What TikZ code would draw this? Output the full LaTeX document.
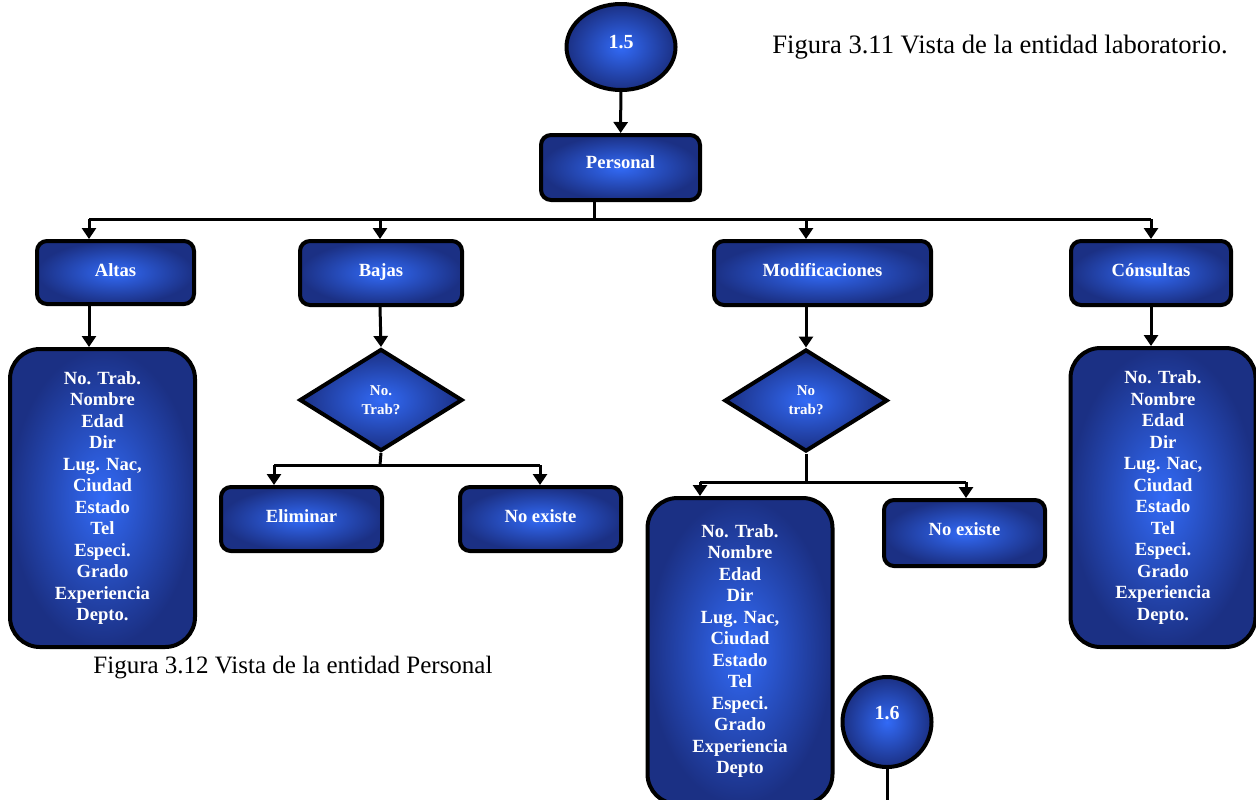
\documentclass[tikz,border=0pt]{standalone}
\usepackage{fontspec}
\setmainfont{Liberation Serif}
\usetikzlibrary{shapes.geometric,arrows.meta,calc}
\newlength\pxu \setlength\pxu{0.5pt}
\definecolor{bluein}{RGB}{50,106,246}
\definecolor{blueout}{RGB}{27,48,132}
\tikzset{
  shade/.style={draw=black, line width=2pt, inner color=bluein, outer color=blueout, text=white, align=center},
  box/.style={shade, rounded corners=5pt, inner sep=0pt, text height=7pt, text depth=3.5pt,
    font=\bfseries\fontsize{9.3}{10.75}\selectfont},
  listbox/.style={shade, rounded corners=15pt, inner sep=0pt, minimum width=185\pxu, font=\bfseries\fontsize{9.3}{10.75}\selectfont},
  decision/.style={shade, diamond, inner sep=0pt, minimum width=163\pxu, minimum height=102\pxu, font=\bfseries\fontsize{7.5}{9.5}\selectfont},
  term/.style={shade, ellipse, inner sep=0pt, font=\bfseries\fontsize{10}{12}\selectfont},
  wire/.style={line width=1.5pt},
  conn/.style={wire, -{Triangle[length=5.5pt,width=7pt]}},
  caption/.style={inner sep=0pt},
}
\begin{document}
\begin{tikzpicture}[x=0.5pt,y=-0.5pt]
  \clip (0,0) rectangle (1256,799);

  % top connector and root
  \node[term, minimum width=109\pxu, minimum height=86\pxu, text height=7pt, text depth=6pt] (c15) at (621,47) {1.5};
  \node[box, minimum width=159\pxu, minimum height=65\pxu, text depth=6pt] (pers) at (620.5,167.5) {Personal};

  % first level
  \node[box, minimum width=157\pxu, minimum height=63\pxu] (altas) at (115.5,272.5) {Altas};
  \node[box, minimum width=162\pxu, minimum height=64\pxu] (bajas) at (381,273) {Bajas};
  \node[box, minimum width=217\pxu, minimum height=64\pxu] (modif) at (822.5,273) {Modificaciones};
  \node[box, minimum width=160\pxu, minimum height=64\pxu] (cons) at (1151,273) {Cónsultas};

  % field lists
  \node[listbox, minimum height=298\pxu] (listA) at (102.5,498)
    {No. Trab.\\Nombre\\Edad\\Dir\\Lug. Nac,\\Ciudad\\Estado\\Tel\\Especi.\\Grado\\Experiencia\\Depto.};
  \node[listbox, minimum height=299\pxu] (listC) at (1163,497.5)
    {No. Trab.\\Nombre\\Edad\\Dir\\Lug. Nac,\\Ciudad\\Estado\\Tel\\Especi.\\Grado\\Experiencia\\Depto.};
  \node[listbox, minimum height=306\pxu] (listM) at (740,651)
    {No. Trab.\\Nombre\\Edad\\Dir\\Lug. Nac,\\Ciudad\\Estado\\Tel\\Especi.\\Grado\\Experiencia\\Depto};

  % decisions
  \node[decision] (dB) at (381,400) {No.\\Trab?};
  \node[decision] (dM) at (806,400.5) {No\\trab?};

  % outcomes
  \node[box, minimum width=161\pxu, minimum height=64\pxu] (elim) at (301.5,519) {Eliminar};
  \node[box, minimum width=161\pxu, minimum height=64\pxu] (noex1) at (540.5,519) {No existe};
  \node[box, minimum width=161\pxu, minimum height=66\pxu, text depth=5pt] (noex2) at (964.5,533) {No existe};

  % continuation connector
  \node[term, minimum width=89\pxu, minimum height=90\pxu] (c16) at (887,722)
    {\raisebox{18\pxu}{1.6}};
  \coordinate (c16end) at (887,812);

  % captions
  \node[caption, anchor=base west, font=\fontsize{13.3}{16}\selectfont] (cap11) at (772,53) {Figura 3.11 Vista de la entidad laboratorio.};
  \node[caption, anchor=base west, font=\fontsize{12.5}{15}\selectfont] (cap12) at (93,673) {Figura 3.12 Vista de la entidad Personal};

  % bus under Personal
  \coordinate (pj) at (594,219);
  \coordinate (bA) at (89,219);
  \coordinate (bB) at (380,219);
  \coordinate (bM) at (806,219);
  \coordinate (bC) at (1151,219);

  \draw[conn] (c15) -- (pers);
  \draw[wire] (pers.south -| pj) -- (pj);
  \draw[wire] (bA) -- (bC);
  \draw[conn] (bA) -- (bA |- altas.north);
  \draw[conn] (bB) -- (bB |- bajas.north);
  \draw[conn] (bM) -- (bM |- modif.north);
  \draw[conn] (bC) -- (bC |- cons.north);

  \draw[conn] (bA |- altas.south) -- (bA |- listA.north);
  \draw[conn] (bB |- bajas.south) -- (dB.north);
  \draw[conn] (bM |- modif.south) -- (dM.north);
  \draw[conn] (bC |- cons.south) -- (bC |- listC.north);

  % Bajas branches
  \coordinate (jB) at (380,465);
  \coordinate (jBl) at (274,465);
  \coordinate (jBr) at (540,465);
  \draw[wire] (dB.south) -- (jB);
  \draw[wire] (jBl) -- (jBr);
  \draw[conn] (jBl) -- (jBl |- elim.north);
  \draw[conn] (jBr) -- (jBr |- noex1.north);

  % Modificaciones branches
  \coordinate (jM) at (806,482);
  \coordinate (jMl) at (700,482);
  \coordinate (jMr) at (966,482);
  \draw[wire] (dM.south) -- (jM);
  \draw[wire] (jMl) -- (jMr);
  \draw[conn] (jMl) -- (jMl |- listM.north);
  \draw[conn] (jMr) -- (jMr |- noex2.north);

  \draw[wire] (c16) -- (c16end);
\end{tikzpicture}
\end{document}
